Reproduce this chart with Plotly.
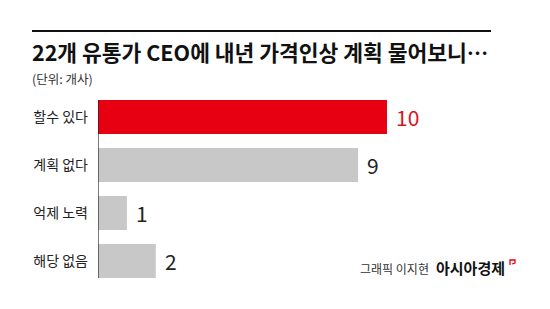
import plotly.graph_objects as go

categories = ["할수 있다", "계획 없다", "억제 노력", "해당 없음"]
values = [10, 9, 1, 2]
bar_colors = ["#E60012", "#C8C8C8", "#C8C8C8", "#C8C8C8"]
label_colors = ["#D7141E", "#222222", "#222222", "#222222"]

title = "22개 유통가 CEO에 내년 가격인상 계획 물어보니…"
subtitle = "(단위: 개사)"
credit = "그래픽 이지현"
brand = "아시아경제"

W, H = 550, 309
ML, MR, MT, MB = 98, 0, 93, 24
PW, PH = W - ML - MR, H - MT - MB
FONT = "Noto Sans CJK KR"

def px(x):
    return (x - ML) / PW

def py(y):
    return 1 - (y - MT) / PH

fig = go.Figure(go.Bar(
    x=values, y=categories, orientation="h",
    marker=dict(color=bar_colors, line=dict(width=0)),
    hoverinfo="skip",
))

annotations = []
for c, v, col in zip(categories, values, label_colors):
    annotations.append(dict(x=v, y=c, xref="x", yref="y", text=str(v),
                            showarrow=False, xanchor="left", yanchor="middle",
                            xshift=7, font=dict(family=FONT, size=21, color=col)))

annotations += [
    dict(x=px(30), y=py(52), xref="paper", yref="paper", text="<b>" + title + "</b>",
         showarrow=False, xanchor="left", yanchor="middle",
         font=dict(family=FONT, size=21.5, color="#111111")),
    dict(x=px(30), y=py(79), xref="paper", yref="paper", text=subtitle,
         showarrow=False, xanchor="left", yanchor="middle",
         font=dict(family=FONT, size=12.5, color="#333333")),
    dict(x=px(431), y=py(268), xref="paper", yref="paper", text=credit,
         showarrow=False, xanchor="right", yanchor="middle",
         font=dict(family=FONT, size=12, color="#333333")),
    dict(x=px(434), y=py(267), xref="paper", yref="paper", text="<b>" + brand + "</b>",
         showarrow=False, xanchor="left", yanchor="middle",
         font=dict(family=FONT, size=15, color="#111111")),
]

shapes = [
    dict(type="line", xref="paper", yref="paper", x0=px(32), x1=px(491), y0=py(31), y1=py(31),
         line=dict(color="#111111", width=2)),
    dict(type="line", xref="x", yref="paper", x0=0, x1=0, y0=py(100), y1=py(278),
         line=dict(color="#222222", width=1.2)),
    dict(type="path", xref="paper", yref="paper",
         path=f"M {px(510)} {py(265)} L {px(510)} {py(260)} L {px(515)} {py(260)} L {px(515)} {py(263)} L {px(512)} {py(264)}",
         line=dict(color="#E60012", width=1.3)),
]

fig.update_layout(
    width=W, height=H,
    margin=dict(l=ML, r=MR, t=MT, b=MB),
    paper_bgcolor="white", plot_bgcolor="white",
    showlegend=False,
    bargap=0.29,
    xaxis=dict(range=[0, PW / 28.9], visible=False, fixedrange=True),
    yaxis=dict(autorange="reversed", showgrid=False, zeroline=False, showline=False,
               ticks="", ticklabelstandoff=9,
               tickfont=dict(family=FONT, size=14, color="#222222"), fixedrange=True),
    annotations=annotations,
    shapes=shapes,
)

fig.write_html("out.html")
